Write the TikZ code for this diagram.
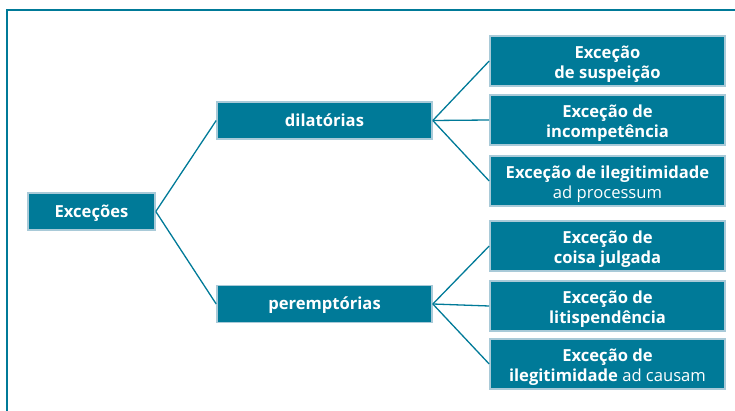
\documentclass[tikz,border=0pt]{standalone}
\usepackage{fontspec}
\setmainfont{Open Sans}
\begin{document}
\begin{tikzpicture}[x=1pt,y=-1pt,
  every node/.style={font=\fontsize{16.6}{20}\selectfont},
  box/.style={draw=boxedge, line width=1.6pt, fill=teal0, text=white,
    align=center, inner sep=0pt, minimum height=37pt},
  % two-line boxes: the text block sits a little below the middle
  leaf/.style={box, minimum width=235pt, minimum height=50pt,
    label={[text=white, align=center, yshift=-3.5pt]center:#1}},
  link/.style={draw=teal0, line width=1.3pt}]
\definecolor{teal0}{HTML}{007A98}
\definecolor{boxedge}{HTML}{A9CAD8}
\useasboundingbox (0,0) rectangle (735,411);
% open frame
\draw[teal0, line width=2pt] (7,412) -- (7,10) -- (736,10);
% tree nodes
\node[box, minimum width=127pt, text depth=1pt] (root) at (91.5,211.5) {\bfseries Exceções};
\node[box, minimum width=215pt, text depth=1pt] (dil) at (324.5,120.5) {\bfseries dilatórias};
\node[box, minimum width=215pt, text depth=1pt] (per) at (324.5,304) {\bfseries peremptórias};
\node[leaf={\bfseries Exceção\\\bfseries de suspeição}] (a1) at (607.5,61) {};
\node[leaf={\bfseries Exceção de\\\bfseries incompetência}] (a2) at (607.5,120) {};
\node[leaf={\bfseries Exceção de ilegitimidade\\ad processum}] (a3) at (607.5,181) {};
\node[leaf={\bfseries Exceção de\\\bfseries coisa julgada}] (b1) at (607.5,246) {};
\node[leaf={\bfseries Exceção de\\\bfseries litispendência}] (b2) at (607.5,306) {};
\node[leaf={\bfseries Exceção de\\\textbf{ilegitimidade} ad causam}] (b3) at (607.5,364) {};
% connectors
\draw[link] (root.east) -- (dil.west);
\draw[link] (root.east) -- (per.west);
\foreach \t in {a1,a2,a3} \draw[link] (dil.east) -- (\t.west);
\foreach \t in {b1,b2,b3} \draw[link] (per.east) -- (\t.west);
\end{tikzpicture}
\end{document}
